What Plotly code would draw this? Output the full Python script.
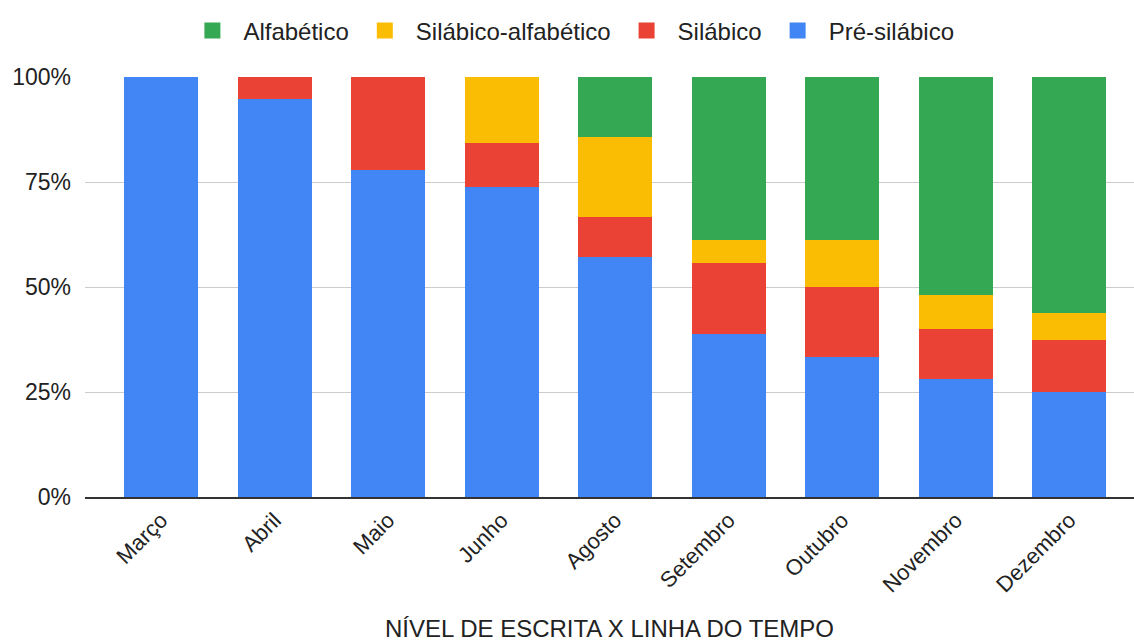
import plotly.graph_objects as go

meses = ["Março", "Abril", "Maio", "Junho", "Agosto", "Setembro", "Outubro", "Novembro", "Dezembro"]
pre_silabico = [100, 94.7, 77.8, 73.7, 57.1, 38.9, 33.3, 28.0, 25.0]
silabico = [0, 5.3, 22.2, 10.5, 9.5, 16.7, 16.7, 12.0, 12.5]
silabico_alfabetico = [0, 0, 0, 15.8, 19.1, 5.6, 11.1, 8.0, 6.25]
alfabetico = [0, 0, 0, 0, 14.3, 38.8, 38.9, 52.0, 56.25]
y_ticks = [0, 25, 50, 75, 100]
y_tick_labels = ["0%", "25%", "50%", "75%", "100%"]

series = [
    ("Pré-silábico", pre_silabico, "#4285F4"),
    ("Silábico", silabico, "#EA4335"),
    ("Silábico-alfabético", silabico_alfabetico, "#FBBC04"),
    ("Alfabético", alfabetico, "#34A853"),
]

fig = go.Figure()
for name, vals, color in series:
    fig.add_trace(go.Bar(x=meses, y=vals, name=name, showlegend=False,
                         marker=dict(color=color, line=dict(width=0))))
# legend entries with larger square symbols
for name, vals, color in series:
    fig.add_trace(go.Scatter(x=[None], y=[None], mode="markers", name=name,
                             marker=dict(symbol="square", size=20, color=color)))

FONT = "Liberation Sans, Arial, sans-serif"
fig.update_layout(
    barmode="stack",
    bargap=0.348,
    width=1134, height=642,
    margin=dict(l=85, r=0, t=77, b=145),
    plot_bgcolor="white", paper_bgcolor="white",
    font=dict(family=FONT, size=23, color="#222222"),
    legend=dict(
        orientation="h", traceorder="reversed",
        xref="container", yref="container",
        x=0.503, xanchor="center", y=1 - 31 / 642, yanchor="middle",
        font=dict(size=24, color="#222222"),
        itemwidth=52, itemsizing="trace",
    ),
    xaxis=dict(
        range=[-0.67, 8.57], tickangle=-45, automargin=False,
        showline=True, linecolor="#333333", linewidth=1.5,
        tickfont=dict(size=22, color="#222222"),
        title=dict(text="NÍVEL DE ESCRITA X LINHA DO TEMPO", font=dict(size=24, color="#222222"), standoff=33),
    ),
    yaxis=dict(
        range=[0, 100], tickmode="array", tickvals=y_ticks, ticktext=y_tick_labels,
        gridcolor="#cccccc", gridwidth=1, zeroline=False, automargin=False,
        tickfont=dict(size=23, color="#222222"), ticklabelstandoff=13,
    ),
)

fig.write_html("out.html")
